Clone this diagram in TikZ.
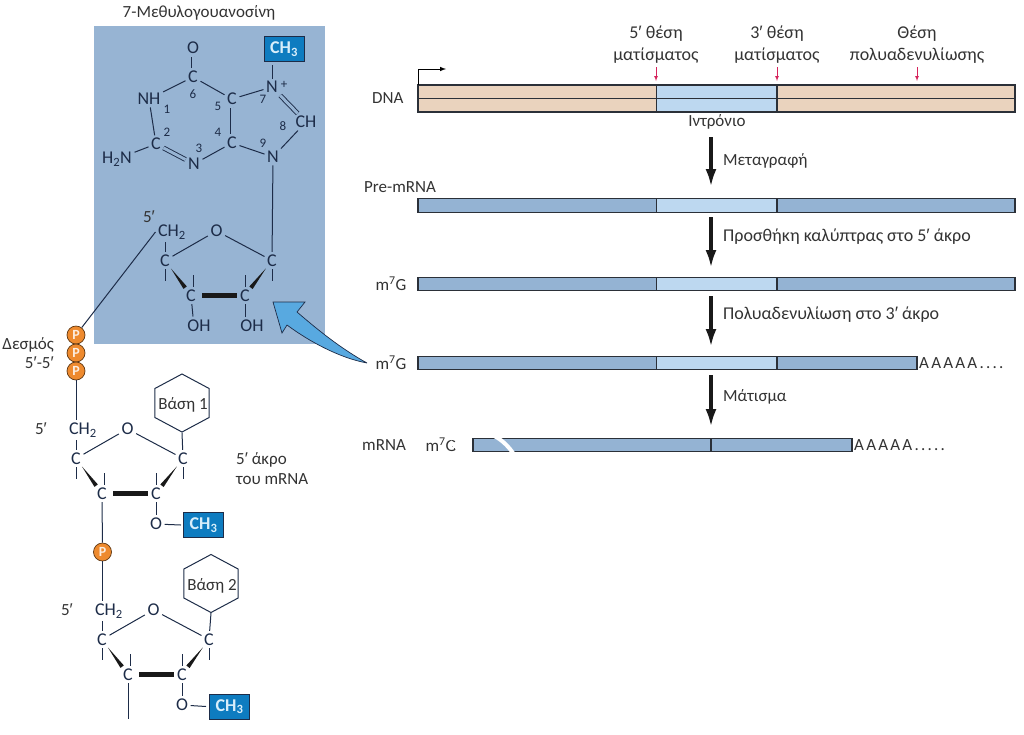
\documentclass[tikz,border=0pt]{standalone}
\usepackage{fontspec}
\setmainfont{Carlito}
\newfontfamily\primefont{Liberation Sans}
\newcommand{\pr}{{\primefont ′}}
\usetikzlibrary{arrows.meta,calc,shapes.geometric}
\definecolor{panelblue}{HTML}{97B4D3}
\definecolor{exonblue}{HTML}{94B3D3}
\definecolor{intronblue}{HTML}{BDD8F0}
\definecolor{dnatan}{HTML}{EAD3BE}
\definecolor{barline}{HTML}{2B3038}
\definecolor{inkblue}{HTML}{1D2C48}
\definecolor{labelgray}{HTML}{333333}
\definecolor{methylblue}{HTML}{0E7CC0}
\definecolor{methyltext}{HTML}{D8EEFA}
\definecolor{phosphate}{HTML}{EE8A2E}
\definecolor{curvearrow}{HTML}{58A9E0}
\definecolor{sitered}{HTML}{D6245C}
\tikzset{
  txt/.style={text=labelgray, font=\fontsize{17}{19}\selectfont, inner sep=0pt},
  widetxt/.style={txt, font=\fontsize{18}{20}\selectfont},
  atom/.style={text=inkblue, font=\fontsize{18}{20}\selectfont, inner sep=2.5pt},
  num/.style={text=inkblue, font=\fontsize{13}{15}\selectfont, inner sep=0pt},
  bond/.style={draw=inkblue, line width=1pt},
  dbl/.style={bond, double=panelblue, double distance=3pt, line width=0.9pt},
  heavy/.style={draw=black!90, line width=4.5pt, shorten <=11pt, shorten >=8pt},
  methyl/.style={fill=methylblue, draw=inkblue, line width=1pt, text=methyltext, minimum width=40pt, minimum height=25pt, inner sep=0pt, font=\fontsize{18}{20}\selectfont\bfseries},
  phos/.style={circle, fill=phosphate, draw=black!60!phosphate, line width=0.7pt, minimum size=18pt, inner sep=0pt, text=white!85!phosphate, font=\fontsize{14}{16}\selectfont\bfseries},
  hexa/.style={regular polygon, regular polygon sides=6, shape border rotate=30, draw=inkblue, line width=1pt, minimum size=58pt, inner sep=0pt, xscale=1.08},
  seg/.style={draw=barline, line width=1.2pt, anchor=west, inner sep=0pt, outer sep=0pt},
  flow/.style={draw=black!90, line width=3.5pt, -{Latex[length=18pt,width=11pt]}},
  site/.style={draw=sitered, line width=0.7pt, -latex}
}
\newcommand{\wedgebond}[2]{\fill[black!90] ($(#1)!10pt!(#2)$) -- ($(#2)!10pt!12:(#1)$) -- ($(#2)!10pt!-12:(#1)$) -- cycle;}
\begin{document}
\begin{tikzpicture}[x=1pt,y=-1pt]
  \useasboundingbox (0,0) rectangle (1024,734);

  % Panel
  \fill[panelblue] (94,26) rectangle (325,344);
  \node[txt] (captitle) at (199,13) {7-Μεθυλογουανοσίνη};

  % Guanine
  \node[atom] (oxy) at (193,48) {O};
  \node[atom] (c6) at (193,77) {C};
  \node[atom] (n1) at (149,99) {NH};
  \node[atom] (c5) at (232,99) {C};
  \node[atom] (n7) at (272,87) {N};
  \node[atom] (c8) at (306,122) {CH};
  \node[atom] (n9) at (273,157) {N};
  \node[atom] (c4) at (232,143) {C};
  \node[atom] (c2) at (156,144) {C};
  \node[atom] (n3) at (194,164) {N};
  \node[atom] (amino) at (117,159) {H\textsubscript{2}N};
  \node[num] (plus) at (284,85) {+};
  \node[methyl] (metcap) at (284,49) {CH\textsubscript{3}};
  \foreach \i/\x/\y in {1/167/109, 2/167/132, 3/199/148, 4/218/132, 5/218/106, 6/193/94, 7/263/99, 8/283/126, 9/263/143}{
    \node[num] (num\i) at (\x,\y) {\i};
  }
  \draw[dbl] (oxy) -- (c6);
  \draw[bond] (c6) -- (n1);
  \draw[bond] (c6) -- (c5);
  \draw[bond] (n1) -- (c2);
  \draw[dbl] (c2) -- (n3);
  \draw[bond] (n3) -- (c4);
  \draw[dbl] (c5) -- (c4);
  \draw[bond] (c5) -- (n7);
  \draw[bond] (c4) -- (n9);
  \draw[dbl] (n7) -- (c8);
  \draw[bond] (c8) -- (n9);
  \draw[bond] (amino) -- (c2);
  \draw[bond] (n7) -- ([yshift=-3pt]n7 |- metcap.south);

  % Sugars
  \foreach \sg/\x/\y in {a/172/232, b/83/430, c/109/611}{
    \begin{scope}[shift={(\x,\y)}]
      \node[atom] (\sg ch) at (0,0) {CH\textsubscript{2}};
      \node[atom] (\sg o) at (44.5,-1) {O};
      \node[atom] (\sg cl) at (-7,28.5) {C};
      \node[atom] (\sg cr) at (100,28.5) {C};
      \node[atom] (\sg ll) at (19,63.5) {C};
      \node[atom] (\sg lr) at (73,63.5) {C};
      \draw[bond] (\sg cl) -- (\sg cl |- \sg ch.south);
      \draw[bond] (\sg cl) -- (\sg o);
      \draw[bond] (\sg o) -- (\sg cr);
      \draw[bond] (\sg cl.south) -- ++(0,12);
      \draw[bond] (\sg cr.south) -- ++(0,12);
      \draw[bond] (\sg ll.north) ++(2,0) -- ++(0,-12);
      \draw[bond] (\sg lr.north) -- ++(0,-12);
      \wedgebond{\sg cl}{\sg ll}
      \wedgebond{\sg cr}{\sg lr}
      \draw[heavy] (\sg ll.center) -- (\sg lr.center);
      \draw[bond] (\sg lr) -- ++(0,21);
    \end{scope}
  }
  \node[atom] (oha) at (199,326) {OH};
  \node[atom] (ohb) at (252,326) {OH};
  \node[txt] (fiveone) at (149,217) {5\pr};
  \node[txt] (fivetwo) at (41,429) {5\pr};
  \node[txt] (fivethree) at (67,610) {5\pr};
  \draw[bond] (all) -- ++(2,21);
  \draw[bond] (n9) -- (acr);

  % Phosphates and bases
  \node[phos] (pa) at (76,335) {P};
  \node[phos] (pb) at (76,353) {P};
  \node[phos] (pc) at (76,371) {P};
  \node[phos] (pd) at (102.5,552) {P};
  \draw[bond] (pa) -- (ach.west);
  \draw[bond] (pc) -- (pc |- bch.north);
  \draw[bond] (bll) -- (pd);
  \draw[bond] (pd) -- (pd |- cch.north);
  \draw[bond] (cll) -- ++(0,44);
  \node[txt, anchor=east] (linkone) at (54,345) {Δεσμός};
  \node[txt, anchor=east] (linktwo) at (54,363) {5\pr-5\pr};
  \node[hexa] (basea) at (182,403) {};
  \node[hexa] (baseb) at (211,583.5) {};
  \node[txt] (basealabel) at (183,405) {Βάση 1};
  \node[txt] (baseblabel) at (212,585.5) {Βάση 2};
  \draw[bond] (basea.south) -- (bcr);
  \draw[bond] (baseb.south) -- (ccr);

  % Ribose methyls
  \node[atom] (obm) at (156,524) {O};
  \node[atom] (ocm) at (182,705) {O};
  \node[methyl] (metb) at (203.5,525) {CH\textsubscript{3}};
  \node[methyl] (metc) at (229.5,706.5) {CH\textsubscript{3}};
  \draw[bond] (obm) -- ([xshift=-2pt]metb.west);
  \draw[bond] (ocm) -- ([xshift=-3pt]metc.west);
  \node[txt, anchor=west] (endone) at (236,460) {5\pr{} άκρο};
  \node[txt, anchor=west] (endtwo) at (236,479) {του mRNA};

  % Curved arrow
  \coordinate (tail) at (367,363);
  \filldraw[fill=curvearrow, draw=inkblue, line width=0.7pt] (tail) .. controls (340,358) and (310,342) .. (287,325) -- (282,333) -- (273,302) -- (305,302) -- (297,312) .. controls (318,330) and (340,348) .. (tail);

  % DNA
  \foreach \r/\y in {t/91.75, b/105.25}{
    \node[seg, fill=dnatan, minimum width=238.5pt, minimum height=13.5pt] (dl\r) at (418,\y) {};
    \node[seg, fill=intronblue, minimum width=120.5pt, minimum height=13.5pt] (di\r) at (656.5,\y) {};
    \node[seg, fill=dnatan, minimum width=238pt, minimum height=13.5pt] (dr\r) at (777,\y) {};
  }
  \coordinate (tssend) at (446,69);
  \draw[line width=1pt, -latex] (dlt.north west) |- (tssend);
  \foreach \n/\x/\l/\m in {a/656/5\pr{} θέση/ματίσματος, b/777/3\pr{} θέση/ματίσματος, c/917/Θέση/πολυαδενυλίωσης}{
    \node[widetxt] (\n one) at (\x,33.5) {\l};
    \node[widetxt] (\n two) at (\x,56) {\m};
    \coordinate (\n top) at (\x,67);
    \coordinate (\n tip) at (\x,81);
    \draw[site] (\n top) -- (\n tip);
  }
  \node[txt, anchor=west] (dnalabel) at (372,98) {DNA};
  \node[txt] (intron) at (717,122) {Ιντρόνιο};

  % Transcripts
  \foreach \n/\y in {pre/205.5, cap/284, pol/363}{
    \node[seg, fill=exonblue, minimum width=238.5pt, minimum height=13.5pt] (\n l) at (418,\y) {};
    \node[seg, fill=intronblue, minimum width=120.5pt, minimum height=13.5pt] (\n i) at (656.5,\y) {};
  }
  \node[seg, fill=exonblue, minimum width=238pt, minimum height=13.5pt] (prer) at (777,205.5) {};
  \node[seg, fill=exonblue, minimum width=238pt, minimum height=13.5pt] (capr) at (777,284) {};
  \node[seg, fill=exonblue, minimum width=140pt, minimum height=13.5pt] (polr) at (777,363) {};
  \node[seg, fill=exonblue, minimum width=238pt, minimum height=13.5pt] (rnal) at (473,445) {};
  \node[seg, fill=exonblue, minimum width=141pt, minimum height=13.5pt] (rnar) at (711,445) {};
  \node[txt, anchor=west] (prelabel) at (364,187) {Pre-mRNA};
  \node[txt] (caplabel) at (391,284) {m\textsuperscript{7}G};
  \node[txt] (pollabel) at (391,363) {m\textsuperscript{7}G};
  \node[txt, anchor=west] (rnalabel) at (362,445) {mRNA};
  \node[txt] (rnacap) at (441,445) {m\textsuperscript{7}G};
  \node[txt, anchor=west] (polya) at (919,363) {\addfontfeature{LetterSpace=13}AAAAA....};
  \node[txt, anchor=west] (rnapolya) at (854,445) {\addfontfeature{LetterSpace=13}AAAAA.....};
  \draw[white, line width=4pt] (490,434) .. controls (500,438) and (508,445) .. (515,456);
  \draw[white, line width=4pt] (450,442) -- (459,449);

  % Steps
  \foreach \i/\a/\b/\t/\y/\st in {1/137/187/Μεταγραφή/161/txt, 2/217/268/Προσθήκη καλύπτρας  στο 5\pr{} άκρο/237/widetxt, 3/296/347/Πολυαδενυλίωση στο 3\pr{} άκρο/315/widetxt, 4/375/427/Μάτισμα/397/txt}{
    \coordinate (steptop\i) at (711,\a);
    \coordinate (steptip\i) at (711,\b);
    \draw[flow] (steptop\i) -- (steptip\i);
    \node[\st, anchor=west] (steplabel\i) at (723,\y) {\t};
  }
\end{tikzpicture}
\end{document}
